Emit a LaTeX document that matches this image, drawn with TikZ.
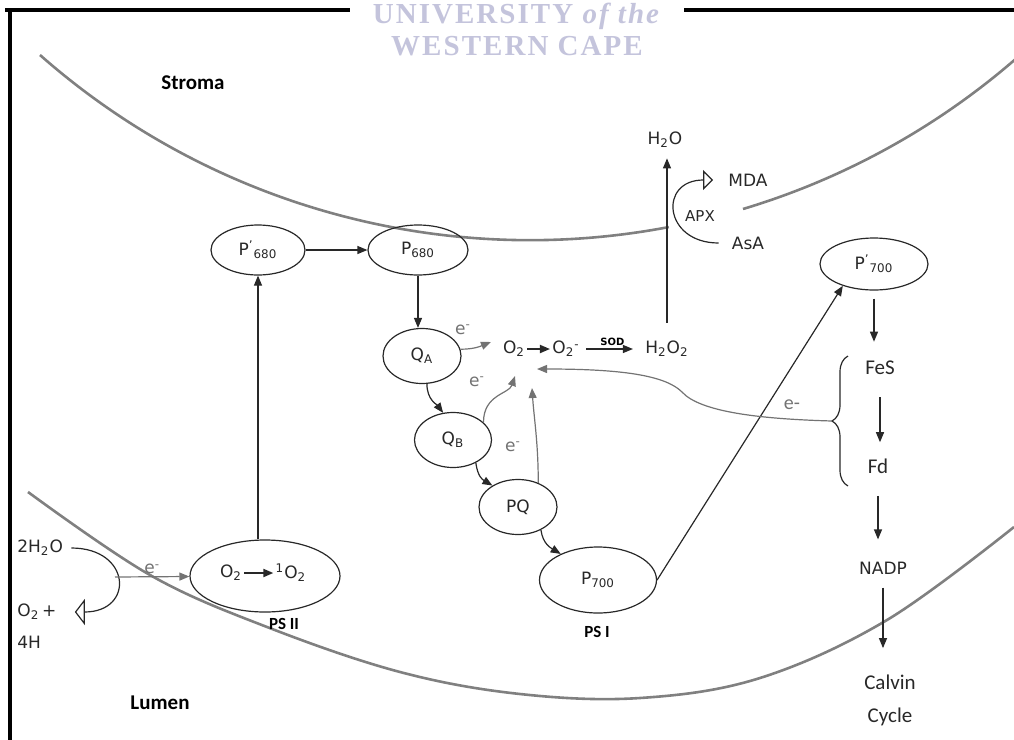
\documentclass[tikz,border=0pt]{standalone}
\usepackage{fontspec}
\setmainfont{DejaVu Sans}
\newfontfamily\calib{Carlito}
\newfontfamily\wmfont{Liberation Serif}[LetterSpace=7]
\usetikzlibrary{shapes.geometric, arrows.meta, decorations.pathreplacing}
\definecolor{ink}{RGB}{40,40,40}
\definecolor{memgray}{RGB}{128,128,128}
\definecolor{egray}{RGB}{115,115,115}
\definecolor{wmark}{RGB}{196,196,220}

\begin{document}
\begin{tikzpicture}[
    x=0.5pt, y=-0.5pt,
    comp/.style={draw=ink, ellipse, line width=0.6pt, inner sep=0pt, text=ink,
                 font=\fontsize{8.5}{10}\selectfont},
    lbl/.style={text=ink, inner sep=1pt, font=\fontsize{8.5}{10}\selectfont},
    cal/.style={text=ink, inner sep=1pt, align=center, font=\calib\fontsize{10.5}{16.5}\selectfont},
    region/.style={text=black, inner sep=1pt, font=\calib\bfseries\fontsize{10.5}{12}\selectfont},
    pslbl/.style={text=black, inner sep=1pt, font=\calib\bfseries\fontsize{8.5}{10}\selectfont},
    elbl/.style={text=egray, inner sep=1pt, font=\fontsize{8.5}{10}\selectfont},
    flow/.style={draw=ink, line width=0.6pt, -{Triangle[length=5pt,width=4pt]}},
    elec/.style={draw=egray, line width=0.6pt, -{Triangle[length=5pt,width=4pt]}},
    cyc/.style={draw=ink, line width=0.6pt, -{Triangle[open,length=5pt,width=10pt]}},
    memb/.style={draw=memgray, line width=1.3pt},
    wmtext/.style={text=wmark, inner sep=0pt, font=\wmfont\bfseries\fontsize{14.5}{16}\selectfont}
  ]
  \useasboundingbox (0,0) rectangle (1014,740);
  \draw[line width=2pt] (5,10) -- (1014,10);
  \draw[line width=2pt] (10,10) -- (10,740);
  \fill[white] (350,0) rectangle (684,60);
  \node[wmtext] (univ) at (517,16) {UNIVERSITY \textit{of the}};
  \node[wmtext] (cape) at (517,46) {WESTERN CAPE};

  \draw[memb] (40,55) arc[start angle=131.4, end angle=79.2, radius=741];
  \draw[memb] (743,209) arc[start angle=73.3, end angle=48.5, radius=741];
  \draw[memb] plot[smooth, tension=0.6] coordinates {(28,492) (150,575) (267,627)
    (400,672) (520,694) (640,698) (760,678) (887,620) (1014,527)};

  \node[region] (stroma) at (193,83) {Stroma};
  \node[region] (lumen) at (160,703) {Lumen};

  \node[comp, minimum width=47pt, minimum height=25pt] (pp680) at (258,250) {P\textsuperscript{'}\textsubscript{680}};
  \node[comp, minimum width=50pt, minimum height=25pt] (p680) at (418,250) {P\textsubscript{680}};
  \node[comp, minimum width=39pt, minimum height=27.5pt] (qa) at (422,356) {Q\textsubscript{A}};
  \node[comp, minimum width=38.5pt, minimum height=27.5pt] (qb) at (453,440) {Q\textsubscript{B}};
  \node[comp, minimum width=39pt, minimum height=27.5pt] (pq) at (518,507) {PQ};
  \node[comp, minimum width=58.5pt, minimum height=33pt] (p700) at (598,580) {P\textsubscript{700}};
  \node[comp, minimum width=54pt, minimum height=26pt] (pp700) at (874,264) {P\textsuperscript{'}\textsubscript{700}};
  \node[comp, minimum width=75pt, minimum height=36pt] (psii) at (265,576) {};
  \node[pslbl] (psiilbl) at (284,624) {PS II};
  \node[pslbl] (psilbl) at (597,632) {PS I};

  \node[lbl] (o2in) at (231,573) {O\textsubscript{2}};
  \node[lbl] (singlet) at (291,573) {\textsuperscript{1}O\textsubscript{2}};
  \draw[flow, line width=1pt] (o2in) -- (singlet);

  \node[lbl, anchor=west] (water) at (15,548) {2H\textsubscript{2}O};
  \node[lbl, anchor=west] (oxy) at (15,612) {O\textsubscript{2}\,+};
  \node[lbl, anchor=west] (prot) at (15,642) {4H};
  \draw[cyc, -{Triangle[open,length=5pt,width=13pt]}] ([xshift=3pt]water.east) .. controls +(60,0) and +(60,0) .. ([xshift=8pt]oxy.east);
  \coordinate (wsplit) at (115,577);
  \draw[elec] (wsplit) -- node[elbl, above, pos=0.5] (ewater) {e\textsuperscript{-}} (psii);

  \node[lbl] (o2) at (514,349) {O\textsubscript{2}};
  \node[lbl] (o2rad) at (566,349) {O\textsubscript{2}\textsuperscript{-}};
  \node[lbl] (h2o2) at (667,349) {H\textsubscript{2}O\textsubscript{2}};
  \node[lbl] (h2o) at (665,140) {H\textsubscript{2}O};
  \node[lbl] (mda) at (748,180) {MDA};
  \node[lbl, font=\fontsize{7.5}{9}\selectfont] (apx) at (700,216) {APX};
  \node[lbl] (asa) at (748,243) {AsA};

  \draw[flow, line width=0.9pt] (o2) -- (o2rad);
  \draw[flow, shorten <=2pt, shorten >=5pt] (o2rad) -- node[above, inner sep=1.5pt, font=\bfseries\fontsize{5}{6}\selectfont] (sod) {SOD} (h2o2);
  \draw[flow, shorten <=8pt, shorten >=4pt] (h2o2.north) -- (h2o2.north |- h2o.south);
  \draw[cyc] ([xshift=-5.5pt]asa.west) .. controls +(-55,0) and +(-55,0) .. ([xshift=-6.5pt]mda.west);

  \draw[flow] (pp680 |- psii.north) -- (pp680.south);
  \draw[flow] (pp680) -- (p680);
  \draw[flow] (p680.south) -- (p680.south |- qa.north);
  \draw[flow] (qa.-80) .. controls +(0,16) and +(-6,-8) .. (qb.110);
  \draw[flow] (qb.-45) .. controls +(2,14) and +(-10,-6) .. (pq.140);
  \draw[flow] (pq.-45) .. controls +(2,14) and +(-10,-6) .. (p700.145);
  \draw[flow] (p700.east) -- (pp700.215);

  \coordinate (t1) at (491,342);
  \coordinate (t2) at (515,376);
  \coordinate (t3) at (532,388);
  \coordinate (t4) at (537,369);
  \draw[elec] (qa.10) .. controls +(14,0) and +(-10,4) .. (t1);
  \draw[elec] (qb.30) .. controls +(0,-28) and +(-6,18) .. (t2);
  \draw[elec] (pq.50) .. controls +(0,-40) and +(2,30) .. (t3);
  \node[elbl] (eqa) at (463,330) {e\textsuperscript{-}};
  \node[elbl] (eqb) at (477,382) {e\textsuperscript{-}};
  \node[elbl] (epq) at (513,447) {e\textsuperscript{-}};

  \node[cal] (fes) at (880,368) {FeS};
  \node[cal] (fd) at (878,466) {Fd};
  \node[lbl] (nadp) at (883,568) {NADP};
  \node[cal] (calvin) at (890,700) {Calvin\\Cycle};
  \draw[flow, shorten <=4pt, shorten >=8.5pt] (pp700.south) -- (pp700.south |- fes.north);
  \draw[flow, shorten <=10pt, shorten >=7pt] (fes.south) -- (fes.south |- fd.north);
  \draw[flow, shorten <=10pt, shorten >=10pt] (fd.south) -- (fd.south |- nadp.north);
  \draw[flow, shorten <=5.5pt, shorten >=12pt] (nadp.south) -- (nadp.south |- calvin.north);

  \coordinate (brtop) at (848,356);
  \coordinate (brbot) at (848,486);
  \coordinate (brtip) at (832,421);
  \draw[draw=ink, line width=0.6pt, decorate, decoration={brace, amplitude=8pt}] (brbot) -- (brtop);
  \draw[elec] (brtip) .. controls (760,419) and (700,412) .. (682,392)
    .. controls (665,375) and (620,369) .. (t4);
  \node[elbl, font=\calib\fontsize{10}{12}\selectfont] (ebrace) at (792,405) {e-};
\end{tikzpicture}
\end{document}
